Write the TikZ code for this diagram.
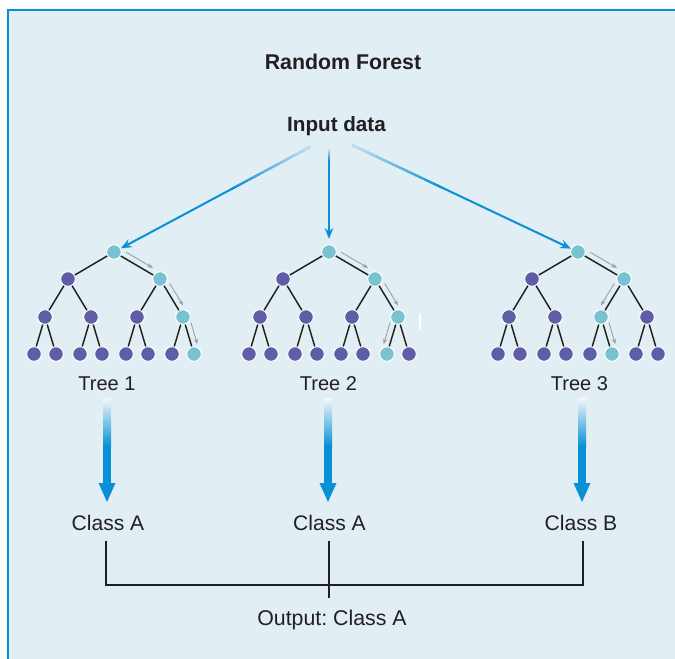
\documentclass[tikz,border=0pt]{standalone}
\usepackage{fontspec}
\setmainfont{Liberation Sans}
\usetikzlibrary{arrows.meta,calc}
\frenchspacing

\definecolor{bgc}{HTML}{E1EEF3}
\definecolor{framec}{HTML}{0093D9}
\definecolor{arrowblue}{HTML}{0A90D6}
\definecolor{nodedark}{HTML}{5F5DA8}
\definecolor{nodelight}{HTML}{79C3D0}
\definecolor{edgec}{HTML}{231F20}
\definecolor{guidegray}{HTML}{9A9A9A}

\makeatletter
% A complete binary tree of depth 3; #1 name prefix, #2 root x, #3 highlighted node indices
\newcommand\drawforesttree[3]{%
  \foreach \k/\dx/\yy in {1/0/252, 2/-46/279, 3/46/279,
      4/-69/317, 5/-23/317, 6/23/317, 7/69/317,
      8/-80/354, 9/-58/354, 10/-34/354, 11/-12/354,
      12/12/354, 13/34/354, 14/58/354, 15/80/354}{%
    \edef\tmp{\noexpand\in@{,\k,}{,#3,}}\tmp
    \ifin@\def\nstyle{hinode}\else\def\nstyle{dnode}\fi
    \node[\nstyle] (#1-\k) at (#2+\dx,\yy) {};
  }%
  \foreach \k in {2,...,15}{%
    \pgfmathtruncatemacro\par@nt{\k/2}%
    \draw[treeedge] (#1-\par@nt) -- (#1-\k);
  }%
}
\makeatother

% gray guide arrow running beside a tree edge; #3 = 90 (left of travel) or -90 (right)
\newcommand\guide[3]{%
  \draw[guidearrow] ($(#1)!0.2!(#2)!4.5pt!#3:(#2)$) -- ($(#1)!0.78!(#2)!4.5pt!#3:(#2)$);
}

% lighten the first part of a blue arrow so that it fades in
\newcommand\fadein[3]{%
  \foreach \i in {0,...,19}{%
    \pgfmathsetmacro\ta{#3*\i/20}%
    \pgfmathsetmacro\tb{#3*(\i+1)/20+0.004}%
    \pgfmathtruncatemacro\pc{12+88*\i/19}%
    \draw[line width=1.5pt, color=arrowblue!\pc!bgc] ($(#1)!\ta!(#2)$) -- ($(#1)!\tb!(#2)$);
  }%
}

% broad downward arrow with a soft top; #1 x of the axis
\newcommand\fatarrow[1]{%
  \shade[top color=white!60!bgc, bottom color=arrowblue] (#1-4,398) rectangle (#1+4,446);
  \fill[arrowblue] (#1-4,445.5) rectangle (#1+4,484);
  \fill[arrowblue] (#1-8.5,483) -- (#1+8.5,483) -- (#1,502) -- cycle;
}

\begin{document}
\begin{tikzpicture}[x=0.75pt,y=-0.75pt,
  dnode/.style={circle, fill=nodedark, draw=white, line width=0.75pt, minimum size=11pt, inner sep=0pt},
  hinode/.style={dnode, fill=nodelight},
  treeedge/.style={draw=edgec, line width=1.1pt},
  guidearrow/.style={draw=guidegray, line width=0.6pt, -{Stealth[length=4pt,width=3pt]}},
  bluearrow/.style={draw=arrowblue, line width=1.5pt, -{Stealth[length=8pt,width=6.5pt]}},
  lbl/.style={text=edgec, anchor=base, inner sep=0pt, font=\fontsize{15}{18}\selectfont},
  classlbl/.style={lbl, font=\fontsize{15.8}{19}\selectfont},
  bracket/.style={draw=edgec, line width=1.1pt}]
\useasboundingbox (0,0) rectangle (675,659);
\fill[white] (0,0) rectangle (675,659);
\fill[bgc] (8,10) rectangle (676,660);
\draw[framec, line width=1.5pt] (8,660) -- (8,10) -- (676,10);

% headings
\node[lbl, font=\bfseries\fontsize{16}{19}\selectfont] (title) at (343,69.5) {Random Forest};
\node[lbl, font=\bfseries\fontsize{15.5}{18}\selectfont] (input) at (336.5,131.5) {Input data};

% the three trees
\drawforesttree{ta}{114}{1,3,7,15}
\drawforesttree{tb}{329}{1,3,7,14}
\drawforesttree{tc}{578}{1,3,6,13}

% decision paths
\guide{ta-1}{ta-3}{90}
\guide{ta-3}{ta-7}{90}
\guide{ta-7}{ta-15}{90}
\guide{tb-1}{tb-3}{90}
\guide{tb-3}{tb-7}{90}
\guide{tb-7}{tb-14}{-90}
\guide{tc-1}{tc-3}{90}
\guide{tc-3}{tc-6}{-90}
\guide{tc-6}{tc-13}{90}

% small white mark beside tree 2
\draw[white, line width=1.2pt] (420,313) -- (420,329);

% input data fed to every tree
\coordinate (src1) at (310,147);
\coordinate (src2) at (329,149);
\coordinate (src3) at (352,145);
\draw[bluearrow] (src1) -- (ta-1);
\draw[bluearrow, shorten >=4pt] (src2) -- (tb-1);
\draw[bluearrow] (src3) -- (tc-1);
\fadein{src1}{ta-1}{0.4}
\fadein{src2}{tb-1}{0.12}
\fadein{src3}{tc-1}{0.4}

% tree names
\node[lbl] (na) at (107,391) {Tree 1};
\node[lbl] (nb) at (328.5,391) {Tree 2};
\node[lbl] (nc) at (579.5,391) {Tree 3};

% votes
\fatarrow{107}
\fatarrow{328}
\fatarrow{582}

\node[classlbl] (ca) at (108,530) {Class A};
\node[classlbl] (cb) at (329.5,530) {Class A};
\node[classlbl] (cc) at (581,530) {Class B};

% majority vote
\coordinate (join) at (329,585);
\coordinate (tail) at (329,598);
\draw[bracket, shorten <=8pt, shorten >=8pt] (ca.base -| 106,0) |- (join) -| (cc.base -| 583,0);
\draw[bracket, shorten <=8pt] (cb.base -| join) -- (tail);

\node[lbl, font=\fontsize{16}{19}\selectfont] (out) at (332,625) {Output: Class A};
\end{tikzpicture}
\end{document}
